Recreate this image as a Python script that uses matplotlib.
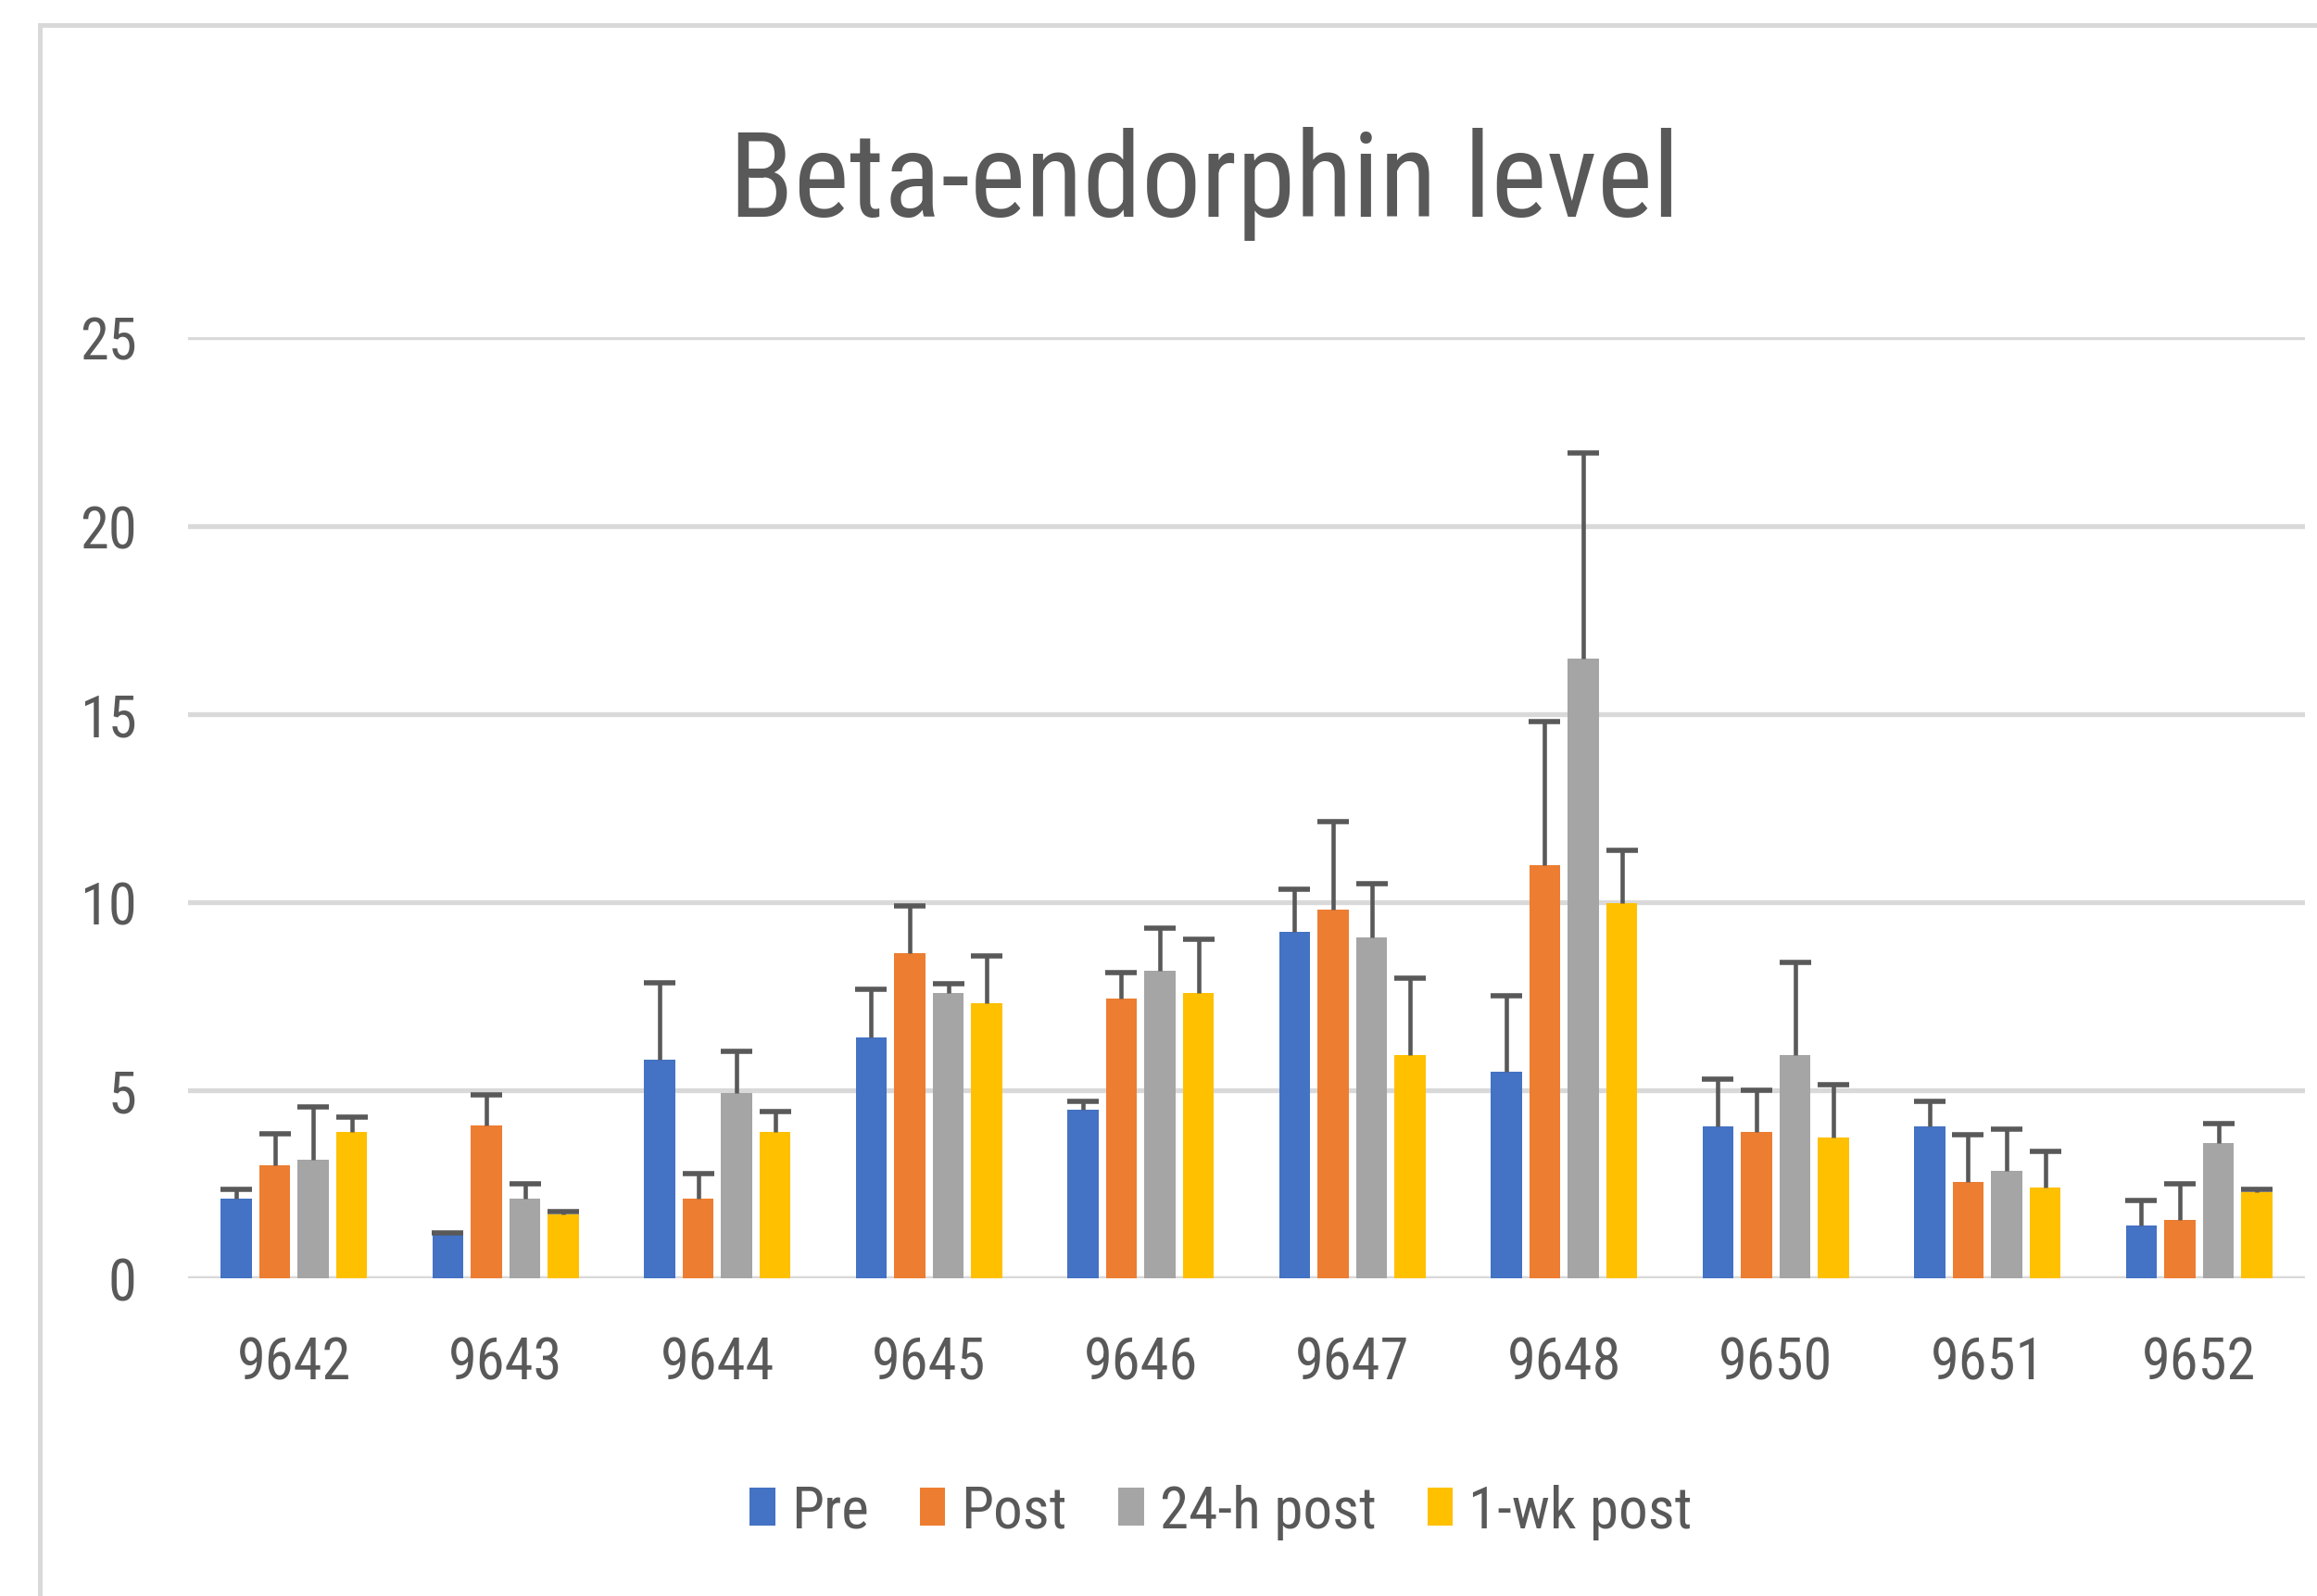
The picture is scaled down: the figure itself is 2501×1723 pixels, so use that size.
import numpy as np
import matplotlib
matplotlib.use("Agg")
import matplotlib.pyplot as plt
from matplotlib.patches import Rectangle
from matplotlib import font_manager

# subject ids on the x axis
subjects = ["9642", "9643", "9644", "9645", "9646", "9647", "9648", "9650", "9651", "9652"]
series_names = ["Pre", "Post", "24-h post", "1-wk post"]

# bar heights
pre = [2.12, 1.16, 5.81, 6.39, 4.47, 9.21, 5.48, 4.04, 4.04, 1.39]
post = [3.00, 4.05, 2.12, 8.63, 7.44, 9.80, 10.99, 3.89, 2.57, 1.54]
h24_post = [3.16, 2.12, 4.93, 7.59, 8.18, 9.06, 16.47, 5.94, 2.86, 3.59]
wk1_post = [3.90, 1.69, 3.90, 7.30, 7.59, 5.92, 9.96, 3.74, 2.42, 2.28]

# plus-only error bars
pre_err = [0.23, 0.05, 2.03, 1.29, 0.23, 1.12, 2.03, 1.25, 0.66, 0.67]
post_err = [0.83, 0.82, 0.67, 1.26, 0.68, 2.33, 3.80, 1.10, 1.25, 0.96]
h24_err = [1.40, 0.38, 1.11, 0.23, 1.12, 1.42, 5.46, 2.45, 1.10, 0.52]
wk1_err = [0.37, 0.07, 0.52, 1.26, 1.41, 2.05, 1.42, 1.40, 0.96, 0.07]

yticks = [0, 5, 10, 15, 20, 25]

colors = ["#4472C4", "#ED7D31", "#A5A5A5", "#FFC000"]
text_col = "#595959"
grid_col = "#D9D9D9"

# a narrow face if one is around, else plain sans
names = {f.name for f in font_manager.fontManager.ttflist}
narrow = [n for n in ["Roboto Condensed", "Liberation Sans Narrow"] if n in names]
FONT = narrow + ["Liberation Sans", "DejaVu Sans"]
plt.rcParams["font.family"] = FONT
scale = 1.0 if narrow else 0.83

fig = plt.figure(figsize=(25.01, 17.24), dpi=100)
ax = fig.add_axes([0.0812, 0.199, 0.9136, 0.589])

x = np.arange(len(subjects))
width = 0.147
step = 0.182
values = [pre, post, h24_post, wk1_post]
errors = [pre_err, post_err, h24_err, wk1_err]

for i, (vals, errs) in enumerate(zip(values, errors)):
    xs = x + (i - 1.5) * step
    ax.bar(xs, vals, width, color=colors[i], label=series_names[i], zorder=2)
    eb = ax.errorbar(xs, vals, yerr=[np.zeros(len(errs)), errs], fmt="none",
                     ecolor=text_col, elinewidth=3.3, capsize=12, capthick=4,
                     zorder=3)
    # only the "plus" cap, like the original
    eb[1][0].set_visible(False)

ax.set_xlim(-0.5, len(subjects) - 0.5)
ax.set_ylim(0, 25)
ax.set_yticks(yticks)
ax.set_xticks(x)
ax.set_xticklabels(subjects)
ax.tick_params(axis="both", length=0, labelsize=45 * scale, colors=text_col)
ax.tick_params(axis="x", pad=44)
ax.tick_params(axis="y", pad=40)
ax.grid(axis="y", color=grid_col, linewidth=3.8, zorder=0)
for s in ax.spines.values():
    s.set_visible(False)
ax.axhline(0, color=grid_col, linewidth=3.8, zorder=1)

fig.text(0.52, 0.864, "Beta-endorphin level", ha="center", va="baseline",
         fontsize=92 * scale, color=text_col)

leg = fig.legend(loc="center", bbox_to_anchor=(0.527, 0.053), ncol=4,
                 frameon=False, fontsize=45.5 * scale, handlelength=0.43,
                 handleheight=0.64, handletextpad=0.27, columnspacing=0.88,
                 labelcolor=text_col)

# chart area border (only top and left show in the crop)
fig.patches.append(Rectangle((0.0172, -0.05), 1.2, 0.9838 + 0.05,
                             transform=fig.transFigure, fill=False,
                             edgecolor=grid_col, linewidth=3.6))

fig.savefig("out.png", dpi=100, facecolor="white")
